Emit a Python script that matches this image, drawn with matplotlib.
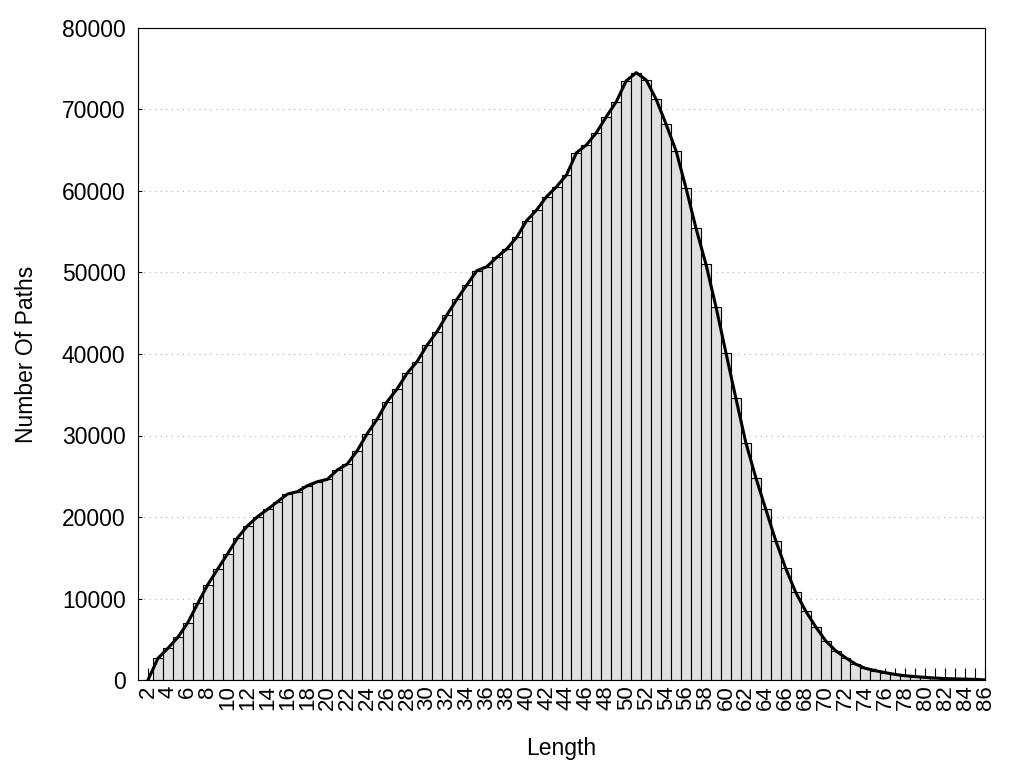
import numpy as np
import matplotlib
matplotlib.use('Agg')
import matplotlib.pyplot as plt

plt.rcParams['font.family'] = ['Liberation Sans', 'DejaVu Sans']

# path length -> number of paths
lengths = list(range(2, 87))
counts = [
    0, 2660, 3890, 5240, 7030, 9410, 11700, 13620, 15500, 17460,       # 2-11
    18930, 20040, 20940, 21880, 22820, 23110, 23840, 24330, 24620,     # 12-20
    25770, 26500, 28140, 30220, 32000, 34150, 35710, 37630, 39060,     # 21-29
    41070, 42740, 44790, 46710, 48470, 50220, 50710, 51870, 52880,     # 30-38
    54320, 56360, 57670, 59300, 60530, 61960, 64700, 65640, 67160,     # 39-47
    69120, 70960, 73530, 74520, 73620, 71250, 68180, 64910, 60330,     # 48-56
    55420, 51000, 45800, 40160, 34560, 29120, 24830, 20940, 17100,     # 57-65
    13700, 10760, 8470, 6540, 4820, 3600, 2740, 1960, 1430,            # 66-74
    1140, 900, 680, 520, 420, 320, 240, 180, 140, 110, 80, 10,         # 75-86
]
y_ticks = list(range(0, 80001, 10000))

fig = plt.figure(figsize=(10.24, 7.68), dpi=100)
ax = fig.add_axes([138 / 1024, 88 / 768, 847 / 1024, 652 / 768])

ax.bar(lengths, counts, width=1.0, color='#e0e0e0', edgecolor='black',
       linewidth=0.8, zorder=2)
ax.plot(lengths, counts, color='black', linewidth=2.2, zorder=3,
        solid_joinstyle='round', solid_capstyle='round')

ax.set_xlim(1, 86)
ax.set_ylim(0, 80000)
ax.set_axisbelow(True)
ax.grid(axis='y', linestyle=(0, (1, 4)), color='#b0b0b0', linewidth=0.8)

# labels on even lengths, a tick for every length
ax.set_xticks(lengths[::2])
ax.set_xticks(lengths[1::2], minor=True)
ax.tick_params(axis='x', which='both', direction='in', length=9, width=0.8,
               pad=4, labelsize=16, labelrotation=90)
ax.set_yticks(y_ticks)
ax.tick_params(axis='y', direction='in', length=3, width=0.8, pad=9,
               labelsize=16.5)
for lbl in ax.get_xticklabels():
    lbl.set_va('top')
    lbl.set_ha('center')

for s in ax.spines.values():
    s.set_linewidth(0.8)

ax.set_xlabel('Length', fontsize=16.5, labelpad=19)
ax.set_ylabel('Number Of Paths', fontsize=16.5, labelpad=17)

fig.savefig('out.png', dpi=100)
